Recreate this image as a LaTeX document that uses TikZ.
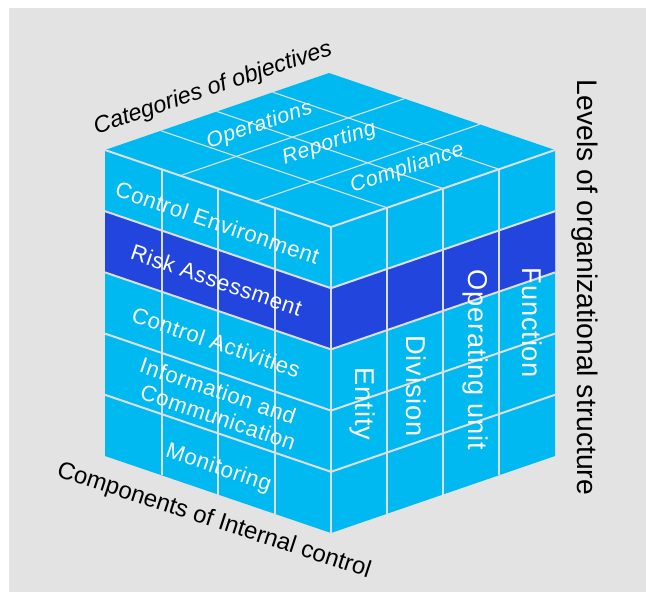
\documentclass[tikz,border=0pt]{standalone}
\usepackage{fontspec}
\setmainfont{Liberation Sans}
\newfontfamily\facefont[LetterSpace=3.0]{Liberation Sans}
\usetikzlibrary{calc}
\definecolor{bgray}{RGB}{227,227,227}
\definecolor{cubecyan}{RGB}{0,185,241}
\definecolor{cubedark}{RGB}{34,70,221}
\definecolor{gridline}{RGB}{222,222,222}

\begin{document}
\begin{tikzpicture}[x=1pt,y=-1pt,
  sideline/.style={draw=gridline, line width=2pt},
  topline/.style={draw=gridline, line width=1.1pt},
  leftlabel/.style={text=white, inner sep=0pt, anchor=base, rotate=-18.8,
    font=\facefont\fontsize{22.2}{24}\selectfont},
  rightlabel/.style={text=white, inner sep=0pt, anchor=base, rotate=-90,
    font=\facefont\fontsize{27.2}{30}\selectfont},
  toplabel/.style={text=white, inner sep=0pt, anchor=base, rotate=18.6,
    font=\facefont\itshape\fontsize{21.3}{24}\selectfont},
  axislabel/.style={text=black, inner sep=0pt, anchor=base}
]
% canvas and grey panel
\useasboundingbox (0,0) rectangle (646,592);
\fill[white] (0,0) rectangle (646,592);
\fill[bgray] (9,8) rectangle (646,592);

% cube corners
\coordinate (L) at (105,150);
\coordinate (B) at (329,73);
\coordinate (R) at (555,150);
\coordinate (F) at (331,227);
\coordinate (L2) at (105,456);
\coordinate (F2) at (331,533);
\coordinate (R2) at (555,456);

% faces
\fill[cubecyan] (L) -- (B) -- (R) -- (F) -- cycle;
\fill[cubecyan] (L) -- (F) -- (F2) -- (L2) -- cycle;
\fill[cubecyan] (F) -- (R) -- (R2) -- (F2) -- cycle;

% highlighted row (Risk Assessment)
\fill[cubedark] ($(L)+(0,61.2)$) -- ($(F)+(0,61.2)$) -- ($(F)+(0,122.4)$) -- ($(L)+(0,122.4)$) -- cycle;
\fill[cubedark] ($(F)+(0,61.2)$) -- ($(R)+(0,61.2)$) -- ($(R)+(0,122.4)$) -- ($(F)+(0,122.4)$) -- cycle;

% top face grid
\foreach \t in {0.3333,0.6667}
  \draw[topline] ($(L)!\t!(F)$) -- ($(B)!\t!(R)$);
\foreach \t in {0.25,0.5,0.75}
  \draw[topline] ($(L)!\t!(B)$) -- ($(F)!\t!(R)$);

% left face grid
\foreach \j in {1,...,4}
  \draw[sideline] ($(L)+(0,\j*61.2)$) -- ($(F)+(0,\j*61.2)$);
\foreach \t in {0.25,0.5,0.75}
  \draw[sideline] ($(L)!\t!(F)$) -- ++(0,306);

% right face grid
\foreach \j in {1,...,4}
  \draw[sideline] ($(F)+(0,\j*61.2)$) -- ($(R)+(0,\j*61.2)$);
\foreach \t in {0.25,0.5,0.75}
  \draw[sideline] ($(F)!\t!(R)$) -- ++(0,306);

% visible front edges
\draw[sideline, line join=miter] (L) -- (F) -- (R);
\draw[sideline] (F) -- (F2);

% objectives on the top face
\node[toplabel] (ops) at (261.3,130.5) {Operations};
\node[toplabel] (rep) at (331,148.8) {Reporting};
\node[toplabel] (comp) at (409,173.8) {Compliance};

% components on the left face
\node[leftlabel] (ce) at (215,230.2) {Control Environment};
\node[leftlabel] (ra) at (214,287.7) {Risk Assessment};
\node[leftlabel] (ca) at (213.6,349.7) {Control Activities};
\node[leftlabel] (ic1) at (215.6,398.2) {Information and};
\node[leftlabel] (ic2) at (215.6,424.7) {Communication};
\node[leftlabel] (mon) at (216.6,474.2) {Monitoring};

% organisational levels on the right face
\node[rightlabel] (ent) at (355,404) {Entity};
\node[rightlabel] (div) at (406,386) {Division};
\node[rightlabel] (opu) at (468,360) {Operating unit};
\node[rightlabel] (fun) at (522,323) {Function};

% axis titles
\node[axislabel, rotate=18.6, font=\itshape\fontsize{23.4}{26}\selectfont] (cat) at (215,94.2) {Categories of objectives};
\node[axislabel, rotate=-18, font=\fontsize{24}{26}\selectfont] (cmp) at (212,527) {Components of Internal control};
\node[axislabel, rotate=-90, font=\fontsize{28.3}{32}\selectfont] (lvl) at (577,287.5) {Levels of organizational structure};
\end{tikzpicture}
\end{document}
